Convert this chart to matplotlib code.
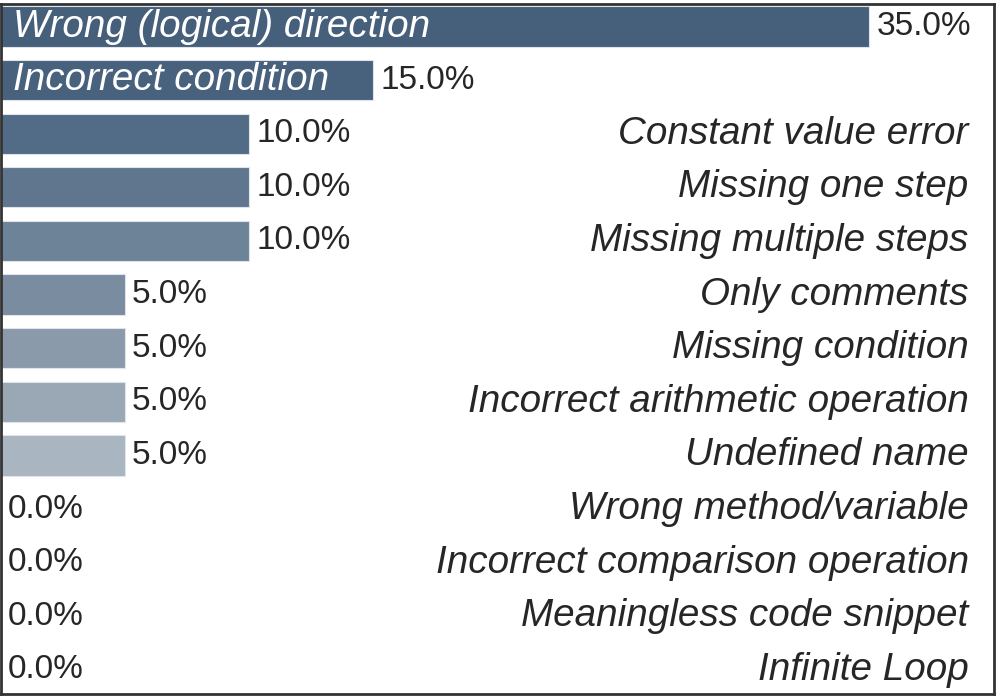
import matplotlib
matplotlib.use("Agg")
import matplotlib.pyplot as plt

plt.rcParams["font.family"] = ["Liberation Sans", "DejaVu Sans"]

# ---------------------------------------------------------------------------
# Data
# ---------------------------------------------------------------------------
categories = [
    "Wrong (logical) direction",
    "Incorrect condition",
    "Constant value error",
    "Missing one step",
    "Missing multiple steps",
    "Only comments",
    "Missing condition",
    "Incorrect arithmetic operation",
    "Undefined name",
    "Wrong method/variable",
    "Incorrect comparison operation",
    "Meaningless code snippet",
    "Infinite Loop",
]
percentages = [35.0, 15.0, 10.0, 10.0, 10.0, 5.0, 5.0, 5.0, 5.0, 0.0, 0.0, 0.0, 0.0]
bar_colors = [
    "#465f7b", "#48617d", "#526b86", "#60768e", "#6d8398", "#7a8c9f",
    "#8a9aab", "#9aa8b6", "#a9b5c1", "#b3bdc8", "#bcc5ce", "#c5cdd5", "#ced5db",
]

TEXT = "#262626"
FS_PCT = 24
FS_CAT = 27.8

fig = plt.figure(figsize=(9.97, 6.98), dpi=100)
ax = fig.add_axes([0.5 / 997, 4 / 698, 993 / 997, 690 / 698])

y = list(range(len(categories)))
ax.barh(y, percentages, height=0.75, color=bar_colors,
        edgecolor="#dfe4ea", linewidth=0.8)

ax.set_xlim(0, 40)
ax.set_ylim(len(categories) - 0.55, -0.42)

for i, (cat, val) in enumerate(zip(categories, percentages)):
    # percentage label just past the bar end
    ax.text(val + 0.3, i, f"{val:.1f}%", va="center", ha="left",
            fontsize=FS_PCT, color=TEXT)
    if val >= 15:
        ax.text(0.5, i, cat, va="center", ha="left", fontsize=FS_CAT,
                style="italic", color="white")
    else:
        ax.text(39.0, i, cat, va="center", ha="right", fontsize=FS_CAT,
                style="italic", color=TEXT)

ax.set_xticks([])
ax.set_yticks([])
for sp in ax.spines.values():
    sp.set_color("#333333")
    sp.set_linewidth(2)

fig.savefig("out.png", dpi=100)
